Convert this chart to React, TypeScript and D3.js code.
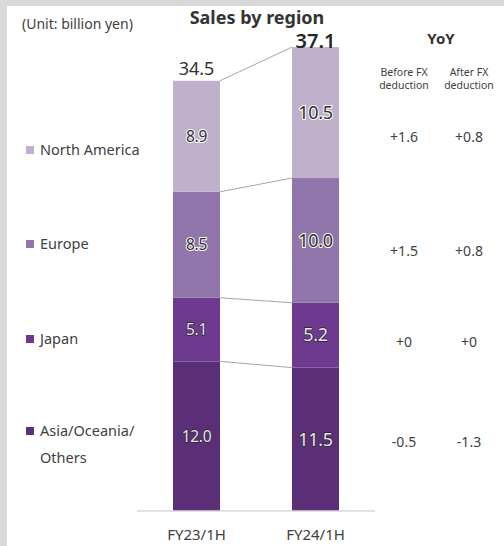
import React from "react";
import * as d3 from "d3";

const categories = ["FY23/1H", "FY24/1H"];
const regions = ["Asia/Oceania/Others", "Japan", "Europe", "North America"];
const asiaOceaniaOthers = [12.0, 11.5];
const japan = [5.1, 5.2];
const europe = [8.5, 10.0];
const northAmerica = [8.9, 10.5];
const totals = [34.5, 37.1];
const yoyBeforeFx = ["-0.5", "+0", "+1.5", "+1.6"];
const yoyAfterFx = ["-1.3", "+0", "+0.8", "+0.8"];

const W = 504;
const H = 546;
const FONT = "'Segoe UI', 'Noto Sans', 'Open Sans', sans-serif";
const colors = ["#5b2f78", "#6d3a8f", "#9176ab", "#bfb0cc"];
const textDark = "#404040";

export default function App() {
  const series = [asiaOceaniaOthers, japan, europe, northAmerica];
  const rows = categories.map((c, i) => {
    const r: any = { category: c };
    regions.forEach((reg, k) => (r[reg] = series[k][i]));
    return r;
  });
  const stacked = d3.stack<any>().keys(regions)(rows);

  const y = d3.scaleLinear().domain([0, 40]).range([511, 511 - 40 * 12.47]);
  const x = d3.scalePoint<string>().domain(categories).range([137, 375]).padding(0.5);
  const barW = 47;

  const legendY = [[431, 458], [339], [244], [150]];
  const yoyY = [442, 342, 251, 137];
  const labelSize = [15.5, 18];

  return (
    <div style={{ position: "fixed", left: 0, top: 0, width: W, height: H }}>
      <svg width={W} height={H} style={{ display: "block", fontFamily: FONT }}>
        <rect x={0} y={0} width={W} height={H} fill="#d9d9d9" />
        <rect x={7} y={6} width={W - 7} height={H - 6} fill="#ffffff" />

        {/* connectors */}
        {stacked.map((s, k) => {
          const x1 = (x(categories[0]) as number) + barW / 2;
          const x2 = (x(categories[1]) as number) - barW / 2;
          return (
            <line
              key={"c" + k}
              x1={x1}
              x2={x2}
              y1={y(s[0][1])}
              y2={y(s[1][1])}
              stroke="#a6a6a6"
              strokeWidth={1}
            />
          );
        })}

        {/* bars */}
        {stacked.map((s, k) =>
          s.map((d, i) => (
            <rect
              key={`b${k}-${i}`}
              x={(x(categories[i]) as number) - barW / 2}
              y={y(d[1])}
              width={barW}
              height={y(d[0]) - y(d[1])}
              fill={colors[k]}
            />
          ))
        )}

        {/* segment labels */}
        {stacked.map((s, k) =>
          s.map((d, i) => {
            const dark = k < 2;
            return (
              <text
                key={`l${k}-${i}`}
                x={x(categories[i]) as number}
                y={(y(d[0]) + y(d[1])) / 2}
                dy="0.35em"
                textAnchor="middle"
                fontSize={labelSize[i]}
                fill={dark ? "#ece6f0" : "#2e2e2e"}
                stroke={dark ? "#262626" : "#ffffff"}
                strokeWidth={dark ? 1.3 : 2}
                paintOrder="stroke"
                style={{ letterSpacing: "-0.3px" }}
              >
                {series[k][i].toFixed(1)}
              </text>
            );
          })
        )}

        {/* totals */}
        <text
          x={x(categories[0]) as number}
          y={y(totals[0]) - 6}
          textAnchor="middle"
          fontSize={18}
          fill="#333"
        >
          {totals[0].toFixed(1)}
        </text>
        <text
          x={x(categories[1]) as number}
          y={y(37.2) + 1}
          textAnchor="middle"
          fontSize={20}
          fontWeight={600}
          fill="#262626"
        >
          {totals[1].toFixed(1)}
        </text>

        {/* axis */}
        <line x1={137} x2={375} y1={y(0)} y2={y(0)} stroke="#d9d9d9" strokeWidth={1.5} />
        {categories.map((c) => (
          <text key={c} x={x(c) as number} y={535} dy="0.35em" textAnchor="middle" fontSize={15} fill={textDark}>
            {c}
          </text>
        ))}

        {/* title and unit */}
        <text x={257} y={18} dy="0.35em" textAnchor="middle" fontSize={18} fontWeight={700} fill="#333">
          Sales by region
        </text>
        <text x={22} y={24} dy="0.35em" fontSize={14} fill={textDark}>
          (Unit: billion yen)
        </text>

        {/* legend */}
        {regions.map((reg, k) => {
          const lines = k === 0 ? ["Asia/Oceania/", "Others"] : [reg];
          return (
            <g key={"lg" + k}>
              <rect x={26} y={legendY[k][0] - 4} width={8} height={8} fill={colors[k]} />
              {lines.map((t, j) => (
                <text key={j} x={40} y={legendY[k][j]} dy="0.35em" fontSize={14.5} fill={textDark}>
                  {t}
                </text>
              ))}
            </g>
          );
        })}

        {/* YoY */}
        <text x={441} y={39} dy="0.35em" textAnchor="middle" fontSize={15} fontWeight={700} fill="#333">
          YoY
        </text>
        {[
          { cx: 404, l: ["Before FX", "deduction"] },
          { cx: 469, l: ["After FX", "deduction"] },
        ].map((h, i) =>
          h.l.map((t, j) => (
            <text key={`h${i}${j}`} x={h.cx} y={72 + j * 13.5} dy="0.35em" textAnchor="middle" fontSize={10.5} fill={textDark}>
              {t}
            </text>
          ))
        )}
        {regions.map((reg, k) => (
          <g key={"yoy" + k}>
            <text x={404} y={yoyY[k]} dy="0.35em" textAnchor="middle" fontSize={14} fill={textDark}>
              {yoyBeforeFx[k]}
            </text>
            <text x={469} y={yoyY[k]} dy="0.35em" textAnchor="middle" fontSize={14} fill={textDark}>
              {yoyAfterFx[k]}
            </text>
          </g>
        ))}
      </svg>
    </div>
  );
}
